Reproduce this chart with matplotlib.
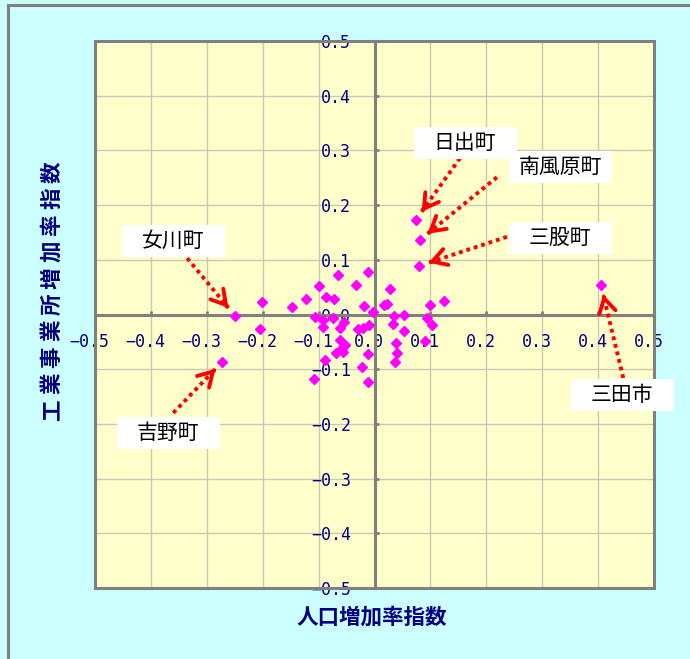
import numpy as np
import matplotlib.pyplot as plt
from matplotlib.patches import Rectangle
from matplotlib.transforms import ScaledTranslation

plt.rcParams['font.family'] = ['Noto Sans CJK JP', 'DejaVu Sans']

# 人口増加率指数 (x) と 工業事業所増加率指数 (y)
pop_idx = [-0.066, -0.099, -0.201, -0.122, -0.147, -0.086, -0.072, -0.107, -0.092, -0.074,
           -0.061, -0.204, -0.092, -0.062, -0.053, -0.059, -0.068, -0.089, -0.109, -0.012,
           -0.033, 0.028, -0.018, -0.002, 0.017, 0.023, 0.034, 0.053, 0.099, 0.124,
           0.094, 0.102, 0.033, 0.053, 0.090, 0.039, 0.041, 0.036, -0.012, -0.023,
           -0.012, -0.029, -0.020, -0.010, -0.055, -0.056]
fac_idx = [0.073, 0.052, 0.023, 0.028, 0.013, 0.032, 0.028, -0.005, -0.010, -0.006,
           -0.024, -0.027, -0.022, -0.046, -0.055, -0.062, -0.071, -0.084, -0.118, 0.078,
           0.054, 0.047, 0.016, 0.005, 0.017, 0.019, -0.002, 0.000, 0.017, 0.024,
           -0.006, -0.019, -0.018, -0.031, -0.049, -0.052, -0.070, -0.086, -0.073, -0.096,
           -0.124, -0.026, -0.025, -0.020, -0.013, -0.068]

# 名前付きの市町
town_names = ['日出町', '南風原町', '三股町', '女川町', '吉野町', '三田市']
town_pop = [0.074, 0.081, 0.080, -0.250, -0.272, 0.405]
town_fac = [0.173, 0.136, 0.089, -0.002, -0.086, 0.054]

# ラベル位置と矢印の根元
label_pos = [(0.162, 0.313), (0.332, 0.270), (0.332, 0.140),
             (-0.360, 0.134), (-0.369, -0.217), (0.443, -0.147)]
tail_pos = [(0.153, 0.286), (0.219, 0.251), (0.237, 0.142),
            (-0.344, 0.114), (-0.360, -0.180), (0.445, -0.116)]

ticks = np.round(np.arange(-0.5, 0.51, 0.1), 1)


def fmt(v, pos):
    return f'{v + 0.0:.1f}'.replace('-', '\u2212')


navy = '#000080'
W, H = 690, 659
fig = plt.figure(figsize=(W / 100, H / 100), dpi=100)
fig.patch.set_facecolor('#ccffff')
fig.add_artist(Rectangle((8 / W, -0.05), 1.1, 1.05 - 5 / H, transform=fig.transFigure,
                         fill=False, ec='#808080', lw=2.2))

ax = fig.add_axes([95 / W, 71 / H, 559 / W, 547 / H])
ax.set_facecolor('#ffffcc')
ax.set_xlim(-0.5, 0.5)
ax.set_ylim(-0.5, 0.5)
ax.set_xticks(ticks)
ax.set_yticks(ticks)
ax.xaxis.set_major_formatter(fmt)
ax.yaxis.set_major_formatter(fmt)
ax.grid(True, color='#c8c8b4', lw=1)
ax.set_axisbelow(True)

for s in ['top', 'right']:
    ax.spines[s].set_visible(False)
for s in ['left', 'bottom']:
    ax.spines[s].set_position(('data', 0))
    ax.spines[s].set_color('#808080')
    ax.spines[s].set_linewidth(2.2)
ax.tick_params(axis='both', direction='in', length=3, width=2, color='#808080',
               labelsize=12, labelcolor=navy, labelfontfamily='DejaVu Sans Mono')
ax.tick_params(axis='x', pad=13)
ax.tick_params(axis='y', pad=17)

# 外枠
ax.add_patch(Rectangle((0, 0), 1, 1, transform=ax.transAxes, fill=False,
                       ec='#808080', lw=2.2, clip_on=False, zorder=5))

ax.plot(pop_idx, fac_idx, ls='none', marker='D', ms=5, color='#ff00ff', zorder=4)
ax.plot(town_pop, town_fac, ls='none', marker='D', ms=5, color='#ff00ff', zorder=4)

# 矢印 (点線の軸 + 実線の矢じり)
to_px = ax.transData.transform
to_data = ax.transData.inverted().transform
gap = 10
for x, y, tail in zip(town_pop, town_fac, tail_pos):
    p0 = to_px(tail)
    p1 = to_px((x, y))
    u = (p1 - p0) / np.hypot(*(p1 - p0))
    tip = p1 - u * gap
    back = tip - u * 2
    t0, t1, t2 = to_data(p0), to_data(tip), to_data(back)
    ax.plot([t0[0], t1[0]], [t0[1], t1[1]], color='red', lw=2.8,
            ls=(0, (1, 1)), solid_capstyle='butt', zorder=6)
    ax.annotate('', xy=t1, xytext=t2,
                arrowprops=dict(arrowstyle='->,head_length=0.85,head_width=0.5',
                                color='red', lw=2.8, shrinkA=0, shrinkB=0,
                                mutation_scale=12), zorder=6)

# 白い固定サイズのラベル枠
bw, bh = 103, 32
for name, (lx, ly) in zip(town_names, label_pos):
    c = to_px((lx, ly))
    lo = to_data(c - np.array([bw / 2, bh / 2]))
    hi = to_data(c + np.array([bw / 2, bh / 2]))
    ax.add_patch(Rectangle(lo, hi[0] - lo[0], hi[1] - lo[1], fc='white', ec='none',
                           zorder=7, clip_on=False))
    ax.text(lx, ly, name, ha='center', va='center', fontsize=15, color='black',
            zorder=8, clip_on=False)

# x目盛りラベルを少し左へ
shift = ScaledTranslation(-4 / 72, 0, fig.dpi_scale_trans)
for lab in ax.get_xticklabels():
    lab.set_transform(lab.get_transform() + shift)

fig.text(372 / W, 1 - 617 / H, '人口増加率指数', ha='center', va='center',
         fontsize=15.5, color=navy, fontweight='bold')

# 縦軸タイトル (字間をあけて一文字ずつ、下から上へ)
ytitle = '工業事業所増加率指数'
step = 26.4
n = len(ytitle)
for i, ch in enumerate(ytitle):
    yy = 291 + ((n - 1) / 2 - i) * step
    fig.text(52 / W, 1 - yy / H, ch, ha='center', va='center', rotation=90,
             fontsize=15.5, color=navy, fontweight='bold')

fig.savefig('out.png', dpi=100, facecolor=fig.get_facecolor())
